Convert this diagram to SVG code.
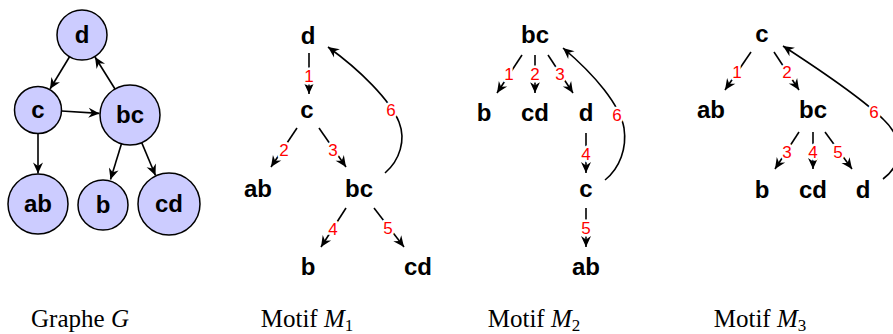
<svg xmlns="http://www.w3.org/2000/svg" width="893" height="334" viewBox="0 0 893 334">
<style>
.n{font-family:"Liberation Sans",Arial,sans-serif;font-weight:bold;font-size:24px;text-anchor:middle;fill:#000}
.t{font-family:"Liberation Sans",Arial,sans-serif;font-weight:bold;font-size:24px;text-anchor:middle;fill:#000}
.c{fill:#ccccff;stroke:#000;stroke-width:1.5}
.e{fill:none;stroke:#000;stroke-width:1.6;marker-end:url(#ar)}
.l{font-family:"Liberation Sans",Arial,sans-serif;font-size:17px;text-anchor:middle;fill:#ff0000;stroke:#fff;stroke-width:5;paint-order:stroke;stroke-linejoin:round}
.cap{font-family:"Liberation Serif","Times New Roman",serif;font-size:25px;text-anchor:middle;fill:#000}
</style>
<defs>
<marker id="ar" markerUnits="userSpaceOnUse" markerWidth="14" markerHeight="12" viewBox="-12 -6 14 12" refX="0" refY="0" orient="auto">
<path d="M0,0 L-11,-5 L-7.5,0 L-11,5 Z" fill="#000"/>
</marker>
</defs>
<g id="connectors">
<line class="e" x1="70" y1="56" x2="50" y2="89"/>
<line class="e" x1="61.5" y1="111" x2="99.5" y2="113.4"/>
<line class="e" x1="115" y1="89" x2="95" y2="57"/>
<line class="e" x1="38" y1="133.5" x2="38" y2="173.5"/>
<line class="e" x1="121.4" y1="144" x2="110.5" y2="179.5"/>
<line class="e" x1="141.7" y1="142.6" x2="155.5" y2="175.5"/>
<line class="e" x1="309" y1="53" x2="309" y2="94"/>
<line class="e" x1="297" y1="128" x2="271" y2="167"/>
<line class="e" x1="319" y1="128" x2="346" y2="167"/>
<line class="e" x1="346" y1="208" x2="321" y2="247"/>
<line class="e" x1="374" y1="208" x2="404" y2="247"/>
<path class="e" d="M385,173 C400,160 406,140 399,122 C390,100 360,70 328,47"/>
<line class="e" x1="522" y1="55" x2="497" y2="93"/>
<line class="e" x1="535" y1="55" x2="535" y2="93"/>
<line class="e" x1="548" y1="55" x2="573" y2="93"/>
<line class="e" x1="586" y1="133" x2="586" y2="173"/>
<line class="e" x1="586" y1="208" x2="586" y2="247"/>
<path class="e" d="M605,180 C620,168 627,148 624,128 C620,105 595,75 563,48"/>
<line class="e" x1="751" y1="52" x2="725" y2="90"/>
<line class="e" x1="774" y1="52" x2="799" y2="90"/>
<line class="e" x1="799" y1="132" x2="775" y2="169"/>
<line class="e" x1="813" y1="132" x2="813" y2="169"/>
<line class="e" x1="825" y1="132" x2="852" y2="169"/>
<path class="e" d="M883,179 C902,165 905,140 884,120 C866,102 820,70 783,46"/>
</g>
<g id="edge-labels">
<text class="l" x="309" y="82">1</text>
<text class="l" x="284" y="156">2</text>
<text class="l" x="333" y="156">3</text>
<text class="l" x="333" y="235">4</text>
<text class="l" x="388" y="234">5</text>
<text class="l" x="391" y="116">6</text>
<text class="l" x="509" y="80">1</text>
<text class="l" x="535" y="80">2</text>
<text class="l" x="560" y="80">3</text>
<text class="l" x="586" y="160">4</text>
<text class="l" x="586" y="234">5</text>
<text class="l" x="617" y="121">6</text>
<text class="l" x="737" y="78">1</text>
<text class="l" x="787" y="78">2</text>
<text class="l" x="787" y="158">3</text>
<text class="l" x="813" y="158">4</text>
<text class="l" x="838" y="158">5</text>
<text class="l" x="874" y="118">6</text>
</g>
<g id="G-d"><circle class="c" cx="82" cy="35" r="25"/><text class="n" x="82" y="43">d</text></g>
<g id="G-c"><circle class="c" cx="38" cy="110" r="23.5"/><text class="n" x="38" y="118">c</text></g>
<g id="G-bc"><circle class="c" cx="130" cy="115" r="30"/><text class="n" x="130" y="123">bc</text></g>
<g id="G-ab"><circle class="c" cx="38" cy="204" r="30"/><text class="n" x="38" y="212">ab</text></g>
<g id="G-b"><circle class="c" cx="103" cy="205" r="25"/><text class="n" x="103" y="213">b</text></g>
<g id="G-cd"><circle class="c" cx="169" cy="204" r="31"/><text class="n" x="169" y="212">cd</text></g>
<g id="M1-d"><text class="t" x="308" y="44">d</text></g>
<g id="M1-c"><text class="t" x="307" y="118">c</text></g>
<g id="M1-ab"><text class="t" x="258" y="197">ab</text></g>
<g id="M1-bc"><text class="t" x="359" y="197">bc</text></g>
<g id="M1-b"><text class="t" x="308" y="275">b</text></g>
<g id="M1-cd"><text class="t" x="418" y="275">cd</text></g>
<g id="M2-bc"><text class="t" x="535" y="43">bc</text></g>
<g id="M2-b"><text class="t" x="484" y="121">b</text></g>
<g id="M2-cd"><text class="t" x="535" y="121">cd</text></g>
<g id="M2-d"><text class="t" x="586" y="121">d</text></g>
<g id="M2-c"><text class="t" x="586" y="197">c</text></g>
<g id="M2-ab"><text class="t" x="586" y="275">ab</text></g>
<g id="M3-c"><text class="t" x="762" y="42">c</text></g>
<g id="M3-ab"><text class="t" x="711" y="118">ab</text></g>
<g id="M3-bc"><text class="t" x="813" y="118">bc</text></g>
<g id="M3-b"><text class="t" x="762" y="198">b</text></g>
<g id="M3-cd"><text class="t" x="813" y="198">cd</text></g>
<g id="M3-d"><text class="t" x="863" y="198">d</text></g>
<g id="captions">
<text class="cap" x="80" y="327">Graphe <tspan font-style="italic">G</tspan></text>
<text class="cap" x="307" y="327">Motif <tspan font-style="italic">M</tspan><tspan font-size="17" dy="4">1</tspan></text>
<text class="cap" x="534" y="327">Motif <tspan font-style="italic">M</tspan><tspan font-size="17" dy="4">2</tspan></text>
<text class="cap" x="760" y="327">Motif <tspan font-style="italic">M</tspan><tspan font-size="17" dy="4">3</tspan></text>
</g>
</svg>
